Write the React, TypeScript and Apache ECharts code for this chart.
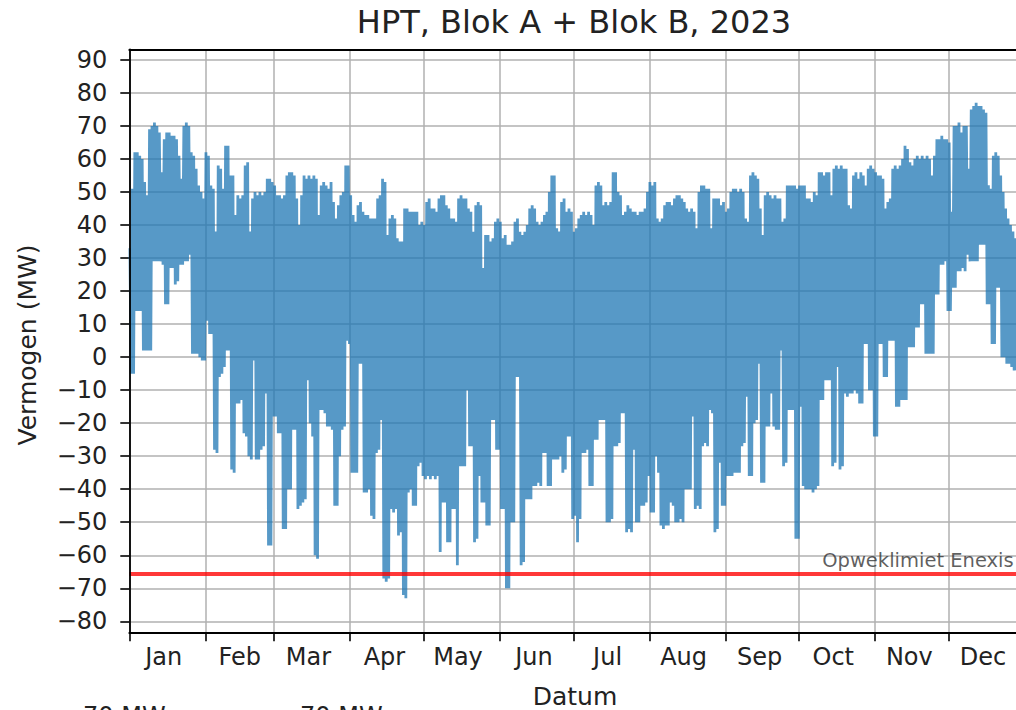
import React, { useEffect, useRef } from 'react';
import * as echarts from 'echarts';

// Month starts (day of year, 2023) and names
const monthStarts = [0, 31, 59, 90, 120, 151, 181, 212, 243, 273, 304, 334];
const monthNames = ['Jan', 'Feb', 'Mar', 'Apr', 'May', 'Jun', 'Jul', 'Aug', 'Sep', 'Oct', 'Nov', 'Dec'];
const monthLabelDays = [14, 45, 73, 104, 134, 165, 195, 226, 257, 287, 318, 348];

// Daily maximum power (MW), day 0 = 1 Jan
const dailyHigh = [
  33, 51, 62, 62, 61, 60, 53, 49, 69, 70,
  71, 70, 68, 56, 66, 68, 68, 67, 67, 66,
  61, 54, 70, 71, 70, 62, 61, 57, 52, 50,
  48, 62, 61, 52, 51, 38, 58, 57, 51, 64,
  64, 55, 55, 43, 49, 48, 49, 58, 59, 38,
  48, 50, 49, 50, 49, 50, 54, 54, 53, 52,
  49, 49, 48, 49, 55, 56, 56, 55, 48, 40,
  49, 55, 54, 55, 54, 55, 54, 43, 52, 53,
  52, 51, 53, 47, 42, 46, 49, 50, 58, 58,
  49, 43, 41, 46, 47, 44, 43, 43, 42, 42,
  42, 48, 49, 54, 53, 37, 42, 43, 42, 36,
  35, 35, 45, 45, 44, 44, 44, 44, 40, 41,
  40, 47, 48, 45, 45, 44, 48, 49, 49, 46,
  45, 42, 42, 41, 48, 49, 48, 48, 45, 44,
  38, 46, 47, 46, 27, 37, 37, 35, 36, 41,
  42, 41, 36, 37, 34, 34, 35, 41, 42, 38,
  37, 38, 40, 45, 46, 45, 41, 40, 41, 43,
  44, 50, 55, 55, 39, 38, 47, 48, 44, 45,
  44, 38, 39, 42, 43, 44, 43, 44, 43, 40,
  52, 53, 52, 46, 47, 46, 47, 56, 56, 50,
  49, 43, 44, 46, 45, 44, 44, 43, 44, 44,
  45, 50, 53, 52, 53, 42, 41, 42, 46, 47,
  47, 46, 48, 49, 49, 48, 47, 45, 44, 45,
  44, 39, 50, 52, 52, 51, 51, 39, 48, 48,
  48, 46, 47, 44, 45, 50, 51, 51, 50, 51,
  50, 42, 41, 55, 56, 55, 54, 45, 37, 49,
  50, 49, 48, 49, 48, 48, 41, 42, 52, 52,
  52, 52, 51, 52, 52, 52, 48, 48, 47, 50,
  49, 56, 56, 55, 56, 56, 49, 57, 58, 57,
  58, 57, 57, 46, 45, 55, 56, 54, 56, 55,
  52, 57, 58, 57, 56, 55, 55, 54, 45, 47,
  48, 57, 58, 57, 58, 60, 64, 63, 59, 58,
  60, 61, 60, 61, 60, 61, 60, 55, 61, 66,
  66, 67, 66, 66, 65, 44, 70, 70, 71, 68,
  70, 70, 57, 75, 76, 77, 76, 76, 75, 74,
  52, 51, 61, 62, 61, 55, 50, 45, 42, 40,
  38, 36,
];

// Daily minimum power (MW)
const dailyLow = [
  -5, -5, 14, 14, 14, 2, 2, 2, 2, 29,
  29, 29, 29, 28, 16, 16, 27, 27, 22, 23,
  28, 28, 29, 29, 31, 1, 1, 1, 0, -1,
  -1, 11, 7, 7, -28, -29, -6, -5, -3, 2,
  2, -34, -35, -14, -14, -13, -23, -24, -30, -31,
  -1, -31, -31, -28, -27, -11, -57, -57, -18, -18,
  -23, -23, -52, -52, -40, -40, -22, -22, -46, -45,
  -44, -43, -7, -20, -24, -60, -61, -16, -16, -17,
  -21, -21, -22, -45, -45, -30, -22, -21, 5, 4,
  -35, -35, -35, -2, -2, -41, -41, -40, -48, -49,
  -29, -28, -19, -67, -68, -67, -46, -47, -46, -54,
  -53, -72, -73, -41, -40, -45, -45, -33, -32, -36,
  -37, -36, -37, -36, -37, -36, -59, -44, -44, -56,
  -56, -46, -46, -63, -33, -33, -33, -10, -27, -27,
  -56, -55, -36, -44, -44, -51, -51, -19, -19, -28,
  -28, -46, -46, -70, -70, -50, -50, -6, -6, -63,
  -62, -43, -43, -43, -39, -39, -38, -39, -29, -29,
  -39, -39, -31, -31, -31, -30, -35, -34, -24, -24,
  -49, -48, -56, -49, -29, -29, -28, -39, -39, -25,
  -25, -19, -19, -19, -50, -50, -49, -27, -27, -26,
  -17, -17, -53, -52, -53, -28, -50, -50, -45, -45,
  -44, -36, -47, -47, -30, -35, -51, -52, -51, -51,
  -44, -45, -50, -50, -49, -50, -40, -40, -40, -18,
  -46, -45, -46, -27, -26, -27, -16, -17, -53, -52,
  -32, -45, -45, -36, -36, -36, -35, -35, -35, -27,
  -26, -12, -36, -36, -20, -19, -2, -38, -38, -21,
  -21, -11, -21, -22, -22, 2, -33, -32, -16, -16,
  -16, -55, -55, -15, -39, -40, -40, -40, -41, -40,
  -39, -13, -13, -7, -7, -7, -33, -32, -3, -34,
  -33, -11, -12, -11, -11, -10, -11, -14, -14, 4,
  4, -10, -10, -24, -24, 4, 4, -6, -6, 5,
  5, 5, -15, -15, -13, -13, -13, 3, 3, 3,
  9, 9, 16, 16, 1, 1, 1, 1, 19, 19,
  28, 28, 29, 14, 14, 21, 21, 26, 26, 27,
  26, 31, 29, 29, 29, 29, 34, 34, 34, 16,
  16, 4, 4, 21, 21, 0, 0, -2, -2, -3,
  -4, -4,
];

const limitMW = -65.7;
const limitLabel = 'Opweklimiet Enexis';
const xMaxDay = 362.6;
const yMinView = -83.3;
const yMaxView = 93.2;
const yTickMin = -80;
const yTickMax = 90;
const yTickStep = 10;
const legendTexts = ['70 MW', '70 MW'];

const FONT = '"DejaVu Sans", sans-serif';
const TEXT = '#222222';
const GRID = '#b0b0b0';

export default function App() {
  const ref = useRef<HTMLDivElement>(null);

  useEffect(() => {
    if (!ref.current) return;
    const chart = echarts.init(ref.current, null, { renderer: 'svg' });

    const zig: number[][] = [];
    dailyHigh.forEach((h, d) => {
      zig.push([d + 0.25, h]);
      zig.push([d + 0.75, dailyLow[d]]);
    });

    const fmtY = (v: number) => (v < 0 ? '\u2212' + Math.abs(v) : String(v));

    const gridLeft = 129.3;
    const gridWidth = 889.4;

    const option: any = {
      animation: false,
      backgroundColor: '#ffffff',
      grid: [
        { left: gridLeft, top: 49.3, width: gridWidth, height: 583, containLabel: false },
        { left: gridLeft, top: 60, width: gridWidth, height: 561.3, containLabel: false },
      ],
      xAxis: [
        {
          type: 'value', gridIndex: 0, min: 0, max: xMaxDay, position: 'bottom',
          axisLine: { show: true, onZero: false, lineStyle: { color: '#000', width: 1.8 } },
          axisTick: { show: true, inside: false, length: 9, customValues: monthStarts, lineStyle: { color: '#000', width: 1.6 } },
          axisLabel: {
            show: true, customValues: monthLabelDays, margin: 13, fontSize: 24, fontFamily: FONT, color: TEXT,
            formatter: (v: number) => monthNames[monthLabelDays.indexOf(Math.round(v))] || '',
          },
          splitLine: { show: true, lineStyle: { color: GRID, width: 1.5 } },
        },
        {
          type: 'value', gridIndex: 0, min: 0, max: xMaxDay, position: 'top',
          axisLine: { show: true, onZero: false, lineStyle: { color: '#000', width: 1.8 } },
          axisTick: { show: false }, axisLabel: { show: false }, splitLine: { show: false },
        },
        {
          type: 'value', gridIndex: 1, min: 0, max: xMaxDay, show: false,
        },
      ],
      yAxis: [
        {
          type: 'value', gridIndex: 0, min: yMinView, max: yMaxView, z: 10,
          axisLine: { show: true, onZero: false, lineStyle: { color: '#000', width: 1.8 } },
          axisTick: { show: false }, axisLabel: { show: false }, splitLine: { show: false },
        },
        {
          type: 'value', gridIndex: 1, min: yTickMin, max: yTickMax, interval: yTickStep,
          axisLine: { show: false },
          axisTick: { show: true, inside: false, length: 9, lineStyle: { color: '#000', width: 1.6 } },
          axisLabel: { show: true, margin: 22, fontSize: 24, fontFamily: FONT, color: TEXT, formatter: fmtY },
          splitLine: { show: true, lineStyle: { color: GRID, width: 1.5 } },
        },
      ],
      series: [
        {
          name: 'Vermogen', type: 'line', xAxisIndex: 0, yAxisIndex: 0, data: zig,
          symbol: 'none', showSymbol: false, z: 2, silent: true,
          lineStyle: { color: '#1f77b4', width: 2.8, opacity: 0.75, join: 'bevel' },
        },
        {
          name: 'Limiet', type: 'line', xAxisIndex: 0, yAxisIndex: 0,
          data: [[0, limitMW], [xMaxDay, limitMW]],
          symbol: 'none', showSymbol: false, z: 3, silent: true,
          lineStyle: { opacity: 0 },
          markLine: {
            silent: true, symbol: ['none', 'none'], animation: false,
            lineStyle: { color: '#ff0000', opacity: 0.78, width: 4, type: 'solid' },
            label: {
              show: true, position: 'insideEndTop', formatter: limitLabel,
              fontSize: 19.5, fontFamily: FONT, color: '#333', distance: [5, 4],
            },
            emphasis: { disabled: true },
            data: [{ yAxis: limitMW }],
          },
        },
      ],
      graphic: [
        {
          type: 'text', x: 574, y: 22, silent: true,
          style: { text: 'HPT, Blok A + Blok B, 2023', fontSize: 32, fontFamily: FONT, fill: TEXT, align: 'center', verticalAlign: 'middle' },
        },
        {
          type: 'text', x: 575, y: 696, silent: true,
          style: { text: 'Datum', fontSize: 25, fontFamily: FONT, fill: TEXT, align: 'center', verticalAlign: 'middle' },
        },
        {
          type: 'text', x: 27, y: 345, rotation: Math.PI / 2, silent: true,
          style: { text: 'Vermogen (MW)', fontSize: 25, fontFamily: FONT, fill: TEXT, align: 'center', verticalAlign: 'middle' },
        },
        {
          type: 'text', x: 83, y: 716, silent: true,
          style: { text: legendTexts[0], fontSize: 24, fontFamily: FONT, fill: TEXT, align: 'left', verticalAlign: 'middle' },
        },
        {
          type: 'text', x: 300, y: 716, silent: true,
          style: { text: legendTexts[1], fontSize: 24, fontFamily: FONT, fill: TEXT, align: 'left', verticalAlign: 'middle' },
        },
      ],
    };

    chart.setOption(option);
    return () => chart.dispose();
  }, []);

  return (
    <div style={{ position: 'fixed', left: 0, top: 0, width: 1016, height: 710, overflow: 'hidden', background: '#fff' }}>
      <div ref={ref} style={{ width: 1040, height: 760 }} />
    </div>
  );
}
